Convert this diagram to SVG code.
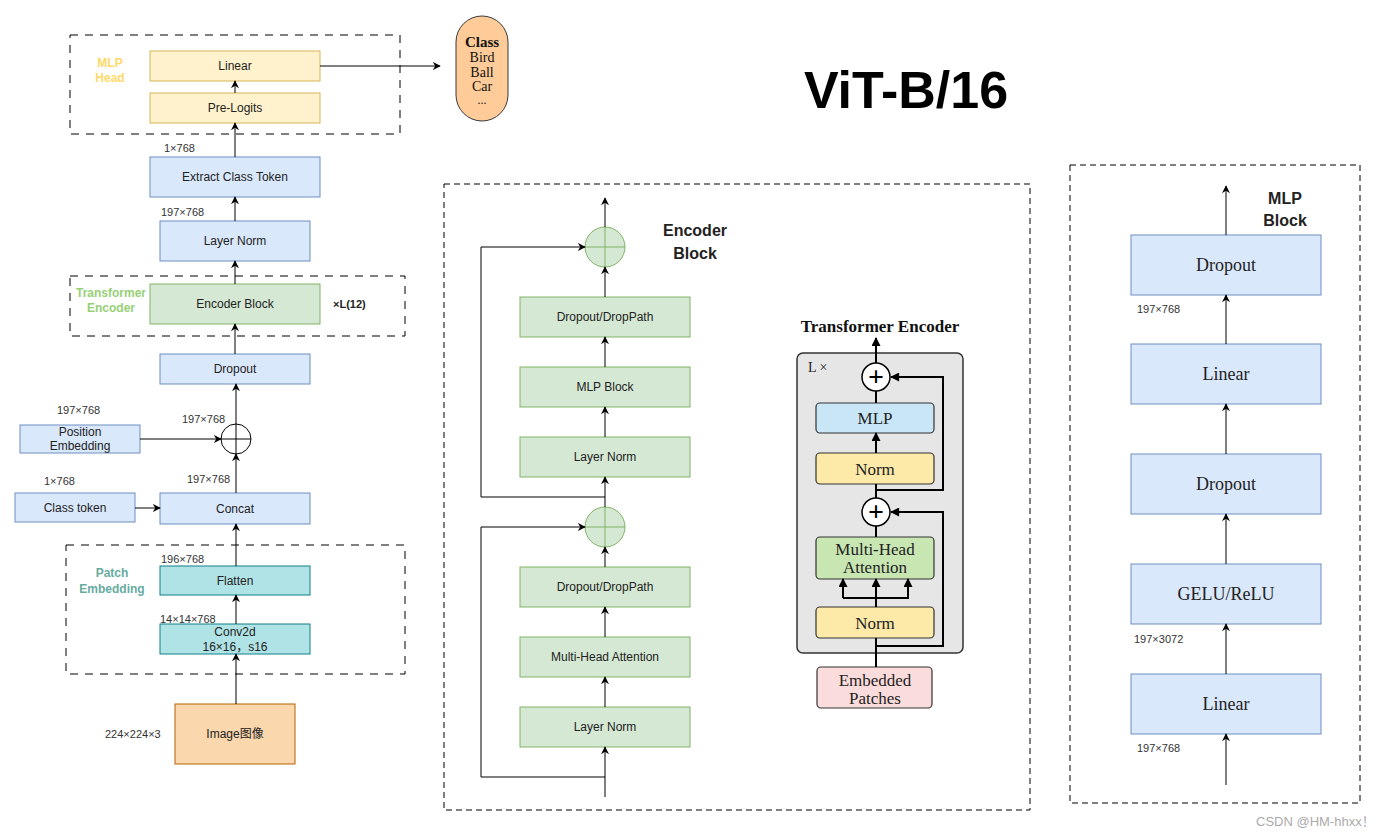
<svg xmlns="http://www.w3.org/2000/svg" width="1394" height="832" viewBox="0 0 1394 832">
<style>
text{font-family:"Liberation Sans",Arial,"Noto Sans CJK SC",sans-serif;fill:#222}
.t12{font-size:12px;text-anchor:middle}
.dim{font-size:11px;fill:#333}
.grp{font-size:12px;font-weight:bold;text-anchor:middle}
.blue{fill:#dae8fc;stroke:#6c8ebf;stroke-width:1}
.yel{fill:#fff2cc;stroke:#d6b656;stroke-width:1}
.grn{fill:#d5e8d4;stroke:#82b366;stroke-width:1}
.teal{fill:#b0e3e6;stroke:#0e8088;stroke-width:1}
.org{fill:#fad7ac;stroke:#b46504;stroke-width:1}
.dash{fill:none;stroke:#000;stroke-width:1;stroke-dasharray:8 7}
.dash2{fill:none;stroke:#000;stroke-width:1;stroke-dasharray:6 4}
.ln{fill:none;stroke:#000;stroke-width:1}
.arr{fill:none;stroke:#000;stroke-width:1;marker-end:url(#ah)}
.serif{font-family:"Liberation Serif","Times New Roman",serif}
.tf{fill:none;stroke:#000;stroke-width:2}
.tfa{fill:none;stroke:#000;stroke-width:2;marker-end:url(#th)}
.tbox{stroke:#333;stroke-width:1.2}
.bt{font-size:16px;font-weight:bold;text-anchor:middle}
.mt{font-family:"Liberation Serif","Times New Roman",serif;font-size:17px;text-anchor:middle;fill:#222}
.mb{font-family:"Liberation Serif","Times New Roman",serif;font-size:18px;text-anchor:middle;fill:#222}
.plus{font-family:"Liberation Serif","Times New Roman",serif;font-size:28px;font-weight:bold;text-anchor:middle;fill:#000}
</style>
<defs>
<marker id="ah" viewBox="0 0 10 10" refX="9" refY="5" markerWidth="8" markerHeight="8" markerUnits="userSpaceOnUse" orient="auto">
<path d="M0,0 L10,5 L0,10 L3,5 z" fill="#000"/>
</marker>
<marker id="th" viewBox="0 0 10 10" refX="9" refY="5" markerWidth="10" markerHeight="9" markerUnits="userSpaceOnUse" orient="auto">
<path d="M0,0 L10,5 L0,10 z" fill="#000"/>
</marker>
</defs>
<rect width="1394" height="832" fill="#fff"/>

<!-- group containers -->
<g id="mlp-head-group">
<rect class="dash" x="70" y="35" width="330" height="99"/>
<text class="grp" x="110" y="67" style="fill:#ffd966">MLP</text>
<text class="grp" x="110" y="82" style="fill:#ffd966">Head</text>
</g>
<g id="transformer-encoder-group">
<rect class="dash" x="70" y="276" width="335" height="60"/>
<text class="grp" x="111" y="297" style="fill:#97d077">Transformer</text>
<text class="grp" x="111" y="312" style="fill:#97d077">Encoder</text>
<text x="333" y="308" style="font-size:11px;font-weight:bold">×L(12)</text>
</g>
<g id="patch-embedding-group">
<rect class="dash" x="66" y="545" width="339" height="129"/>
<text class="grp" x="112" y="577" style="fill:#67ab9f">Patch</text>
<text class="grp" x="112" y="593" style="fill:#67ab9f">Embedding</text>
</g>

<text x="906" y="108" style="font-size:52px;font-weight:bold;text-anchor:middle;fill:#000">ViT-B/16</text>

<!-- left column nodes -->
<g id="linear-head"><rect class="yel" x="150" y="51" width="170" height="30"/><text class="t12" x="235" y="70">Linear</text></g>
<g id="pre-logits"><rect class="yel" x="150" y="93" width="170" height="30"/><text class="t12" x="235" y="112">Pre-Logits</text></g>
<g id="class-output">
<rect x="456" y="16" width="52" height="105" rx="26" fill="#ffcc99" stroke="#36393d" stroke-width="1"/>
<text class="serif" x="482" y="47" style="font-size:15px;font-weight:bold;text-anchor:middle;fill:#111">Class</text>
<text class="serif" x="482" y="62" style="font-size:14px;text-anchor:middle;fill:#111">Bird</text>
<text class="serif" x="482" y="77" style="font-size:14px;text-anchor:middle;fill:#111">Ball</text>
<text class="serif" x="482" y="91" style="font-size:14px;text-anchor:middle;fill:#111">Car</text>
<text class="serif" x="482" y="104" style="font-size:12px;text-anchor:middle;fill:#111">...</text>
</g>
<g id="extract-class-token"><rect class="blue" x="150" y="157" width="170" height="40"/><text class="t12" x="235" y="181">Extract Class Token</text></g>
<g id="layer-norm-final"><rect class="blue" x="160" y="221" width="150" height="40"/><text class="t12" x="235" y="245">Layer Norm</text></g>
<g id="encoder-block-node"><rect class="grn" x="150" y="284" width="170" height="40"/><text class="t12" x="235" y="308">Encoder Block</text></g>
<g id="dropout-embed"><rect class="blue" x="160" y="354" width="150" height="30"/><text class="t12" x="235" y="373">Dropout</text></g>
<g id="add-pos">
<circle cx="236" cy="439" r="15" fill="#fff" stroke="#000" stroke-width="1"/>
<path class="ln" d="M221,439 H251 M236,424 V454"/>
</g>
<g id="position-embedding"><rect class="blue" x="20" y="425" width="120" height="28"/><text class="t12" x="80" y="436">Position</text><text class="t12" x="80" y="450">Embedding</text></g>
<g id="class-token"><rect class="blue" x="15" y="493" width="120" height="29"/><text class="t12" x="75" y="512">Class token</text></g>
<g id="concat"><rect class="blue" x="160" y="493" width="150" height="31"/><text class="t12" x="235" y="513">Concat</text></g>
<g id="flatten"><rect class="teal" x="160" y="566" width="150" height="29"/><text class="t12" x="235" y="585">Flatten</text></g>
<g id="conv2d"><rect class="teal" x="160" y="624" width="150" height="30"/><text class="t12" x="235" y="636">Conv2d</text><text class="t12" x="235" y="651">16×16，s16</text></g>
<g id="image"><rect class="org" x="175" y="704" width="120" height="60"/><text class="t12" x="235" y="738">Image图像</text></g>

<g id="dim-labels">
<text class="dim" x="164" y="152">1×768</text>
<text class="dim" x="161" y="216">197×768</text>
<text class="dim" x="57" y="414">197×768</text>
<text class="dim" x="182" y="423">197×768</text>
<text class="dim" x="44" y="485">1×768</text>
<text class="dim" x="187" y="483">197×768</text>
<text class="dim" x="161" y="563">196×768</text>
<text class="dim" x="160" y="623">14×14×768</text>
<text class="dim" x="105" y="738">224×224×3</text>
</g>

<!-- Encoder block detail -->
<g id="encoder-block-detail">
<rect class="dash2" x="444" y="184" width="586" height="626"/>
<text class="bt" x="695" y="236">Encoder</text>
<text class="bt" x="695" y="259">Block</text>
</g>
<g id="eb-add2"><circle cx="605" cy="247" r="20" fill="#d5e8d4" stroke="#82b366"/><path d="M585,247 H625 M605,227 V267" stroke="#82b366" fill="none"/></g>
<g id="eb-dropout2"><rect class="grn" x="520" y="297" width="170" height="40"/><text class="t12" x="605" y="321">Dropout/DropPath</text></g>
<g id="eb-mlp"><rect class="grn" x="520" y="367" width="170" height="40"/><text class="t12" x="605" y="391">MLP Block</text></g>
<g id="eb-ln2"><rect class="grn" x="520" y="437" width="170" height="40"/><text class="t12" x="605" y="461">Layer Norm</text></g>
<g id="eb-add1"><circle cx="605" cy="527" r="20" fill="#d5e8d4" stroke="#82b366"/><path d="M585,527 H625 M605,507 V547" stroke="#82b366" fill="none"/></g>
<g id="eb-dropout1"><rect class="grn" x="520" y="567" width="170" height="40"/><text class="t12" x="605" y="591">Dropout/DropPath</text></g>
<g id="eb-mha"><rect class="grn" x="520" y="637" width="170" height="40"/><text class="t12" x="605" y="661">Multi-Head Attention</text></g>
<g id="eb-ln1"><rect class="grn" x="520" y="707" width="170" height="40"/><text class="t12" x="605" y="731">Layer Norm</text></g>

<!-- Transformer encoder figure -->
<g id="tf-figure">
<text x="880" y="332" style="font-family:'Liberation Serif','Times New Roman',serif;font-size:17px;font-weight:bold;text-anchor:middle;fill:#111">Transformer Encoder</text>
<rect x="797" y="353" width="166" height="300" rx="6" fill="#e6e6e6" stroke="#333" stroke-width="1.5"/>
<text class="serif" x="808" y="372" style="font-size:14px;fill:#222">L ×</text>
</g>
<g id="tf-add2"><circle cx="876" cy="377" r="14" fill="#fff" stroke="#000" stroke-width="1.5"/><text class="plus" x="876" y="386">+</text></g>
<g id="tf-mlp"><rect class="tbox" x="816" y="403" width="118" height="30" rx="4" fill="#c9e6f7"/><text class="mt" x="875" y="424">MLP</text></g>
<g id="tf-norm2"><rect class="tbox" x="816" y="453" width="118" height="31" rx="4" fill="#fde9a8"/><text class="mt" x="875" y="475">Norm</text></g>
<g id="tf-add1"><circle cx="876" cy="512" r="14" fill="#fff" stroke="#000" stroke-width="1.5"/><text class="plus" x="876" y="521">+</text></g>
<g id="tf-mha"><rect class="tbox" x="816" y="537" width="118" height="42" rx="4" fill="#c8e6b2"/><text class="mt" x="875" y="555">Multi-Head</text><text class="mt" x="875" y="573">Attention</text></g>
<g id="tf-norm1"><rect class="tbox" x="816" y="607" width="118" height="31" rx="4" fill="#fde9a8"/><text class="mt" x="875" y="629">Norm</text></g>
<g id="tf-embedded"><rect class="tbox" x="817" y="667" width="115" height="41" rx="4" fill="#fbdcdc"/><text class="mt" x="875" y="686">Embedded</text><text class="mt" x="875" y="704">Patches</text></g>

<!-- MLP block detail -->
<g id="mlp-block-detail">
<rect class="dash2" x="1070" y="165" width="290" height="638"/>
<text class="bt" x="1285" y="204">MLP</text>
<text class="bt" x="1285" y="226">Block</text>
<text class="dim" x="1137" y="313">197×768</text>
<text class="dim" x="1134" y="643">197×3072</text>
<text class="dim" x="1137" y="752">197×768</text>
</g>
<g id="mb-dropout2"><rect class="blue" x="1131" y="235" width="190" height="60"/><text class="mb" x="1226" y="271">Dropout</text></g>
<g id="mb-linear2"><rect class="blue" x="1131" y="344" width="190" height="60"/><text class="mb" x="1226" y="380">Linear</text></g>
<g id="mb-dropout1"><rect class="blue" x="1131" y="454" width="190" height="60"/><text class="mb" x="1226" y="490">Dropout</text></g>
<g id="mb-gelu"><rect class="blue" x="1131" y="564" width="190" height="60"/><text class="mb" x="1226" y="600">GELU/ReLU</text></g>
<g id="mb-linear1"><rect class="blue" x="1131" y="674" width="190" height="60"/><text class="mb" x="1226" y="710">Linear</text></g>

<!-- connectors -->
<g id="connectors">
<path class="arr" d="M320,66 H440"/>
<path class="arr" d="M235,93 V81"/>
<path class="arr" d="M235,157 V123"/>
<path class="arr" d="M235,221 V197"/>
<path class="arr" d="M235,284 V261"/>
<path class="arr" d="M235,354 V324"/>
<path class="arr" d="M236,424 V384"/>
<path class="arr" d="M140,439 H221"/>
<path class="arr" d="M236,493 V454"/>
<path class="arr" d="M135,508 H160"/>
<path class="arr" d="M236,566 V524"/>
<path class="arr" d="M236,624 V595"/>
<path class="arr" d="M236,704 V654"/>

<path class="arr" d="M605,227 V198"/>
<path class="arr" d="M605,297 V267"/>
<path class="arr" d="M605,367 V337"/>
<path class="arr" d="M605,437 V407"/>
<path class="arr" d="M605,507 V477"/>
<path class="arr" d="M605,497 H481 V247 H585"/>
<path class="arr" d="M605,567 V547"/>
<path class="arr" d="M605,637 V607"/>
<path class="arr" d="M605,707 V677"/>
<path class="arr" d="M605,797 V747"/>
<path class="arr" d="M605,777 H481 V527 H585"/>

<path class="tfa" d="M876,363 V338"/>
<path class="tf" d="M876,403 V391"/>
<path class="tfa" d="M876,453 V433"/>
<path class="tf" d="M876,498 V484"/>
<path class="tfa" d="M876,490 H943 V377 H891"/>
<path class="tf" d="M876,537 V526"/>
<path class="tf" d="M876,607 V598 M843,598 H909"/>
<path class="tfa" d="M843,598 V579"/>
<path class="tfa" d="M876,598 V579"/>
<path class="tfa" d="M908,598 V579"/>
<path class="tfa" d="M876,646 H943 V512 H891"/>
<path class="tf" d="M876,667 V638"/>

<path class="arr" d="M1226,235 V186"/>
<path class="arr" d="M1226,344 V295"/>
<path class="arr" d="M1226,454 V404"/>
<path class="arr" d="M1226,564 V514"/>
<path class="arr" d="M1226,674 V624"/>
<path class="arr" d="M1226,785 V734"/>
</g>

<text x="1256" y="826" style="font-size:13px;fill:#aaa">CSDN @HM-hhxx！</text>
</svg>
